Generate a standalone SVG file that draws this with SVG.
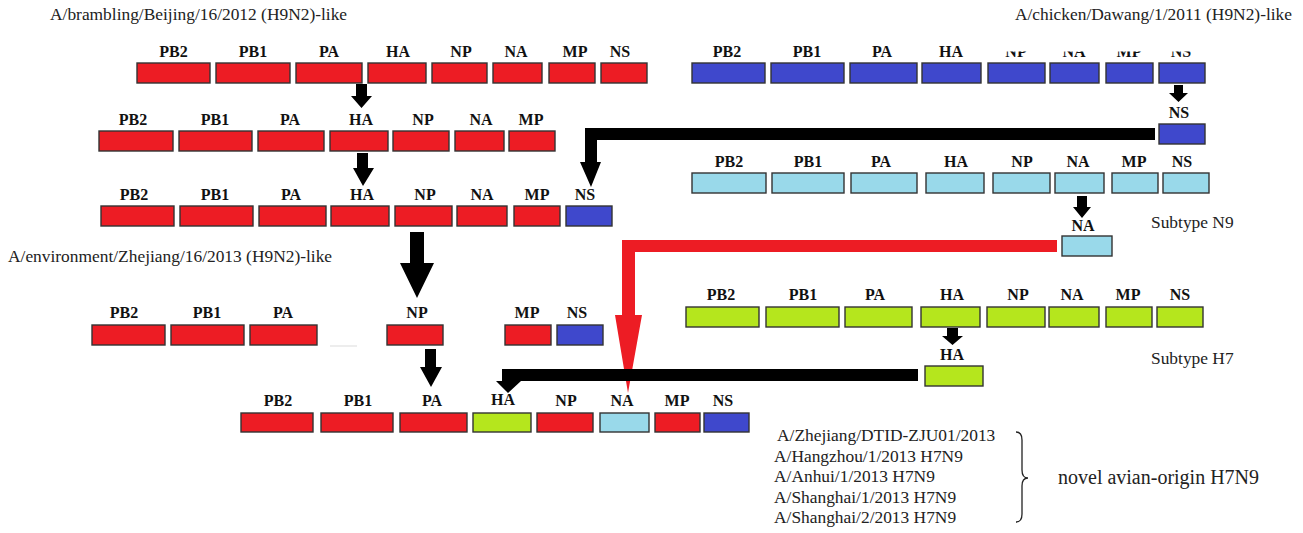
<svg xmlns="http://www.w3.org/2000/svg" width="1303" height="533" viewBox="0 0 1303 533">
<style>
rect.s{stroke:#333;stroke-width:1.4}
.r{fill:#ED1C24}.b{fill:#3F48CC}.c{fill:#99D9EA}.g{fill:#B5E61D}
.l{font-family:"Liberation Serif","Times New Roman",serif;font-weight:bold;font-size:16px;text-anchor:middle;fill:#111}
.t{font-family:"Liberation Serif","Times New Roman",serif;font-size:17.4px;fill:#222}
.a{fill:#000}
.ra{fill:#ED1C24}
</style>
<defs>
<clipPath id="cut"><rect x="975" y="51.5" width="245" height="12"/></clipPath>
</defs>
<rect x="0" y="0" width="1303" height="533" fill="#fff"/>

<g id="titles">
<text class="t" x="50" y="20">A/brambling/Beijing/16/2012 (H9N2)-like</text>
<text class="t" x="1292" y="20" text-anchor="end">A/chicken/Dawang/1/2011 (H9N2)-like</text>
<text class="t" x="8" y="262">A/environment/Zhejiang/16/2013 (H9N2)-like</text>
<text class="t" x="1151" y="228">Subtype N9</text>
<text class="t" x="1151" y="364">Subtype H7</text>
</g>

<g id="connectors">
<polygon class="a" points="356,84 367,84 367,96 372,96 361.5,108 351,96 356,96"/>
<polygon class="a" points="357,153 368,153 368,168 374,168 363,186 353,168 357,168"/>
<polygon class="a" points="410,232 424,232 424,263 434,263 417,298 400,263 410,263"/>
<polygon class="a" points="425,349 436,349 436,367 442,367 431,387 420,367 425,367"/>
<polygon class="a" points="1174,85 1183,85 1183,93 1188,93 1178.5,102 1169,93 1174,93"/>
<polygon class="a" points="1077,196 1087,196 1087,207 1091,207 1082,218 1073,207 1077,207"/>
<polygon class="a" points="947,328 958,328 958,336 963,336 952.5,345 942,336 947,336"/>
<polygon class="a" points="1155,128 1155,140 597,140 597,162 601,162 591,187 580,162 585,162 585,128"/>
<polygon class="ra" points="1057,240 1057,252 635,252 635,315 642,315 628,393 615,315 622,315 622,240"/>
<polygon class="a" points="918,369 918,381 521,381 508,393 496,381 502,381 502,369"/>
</g>

<g id="row1-red">
<g id="r1-PB2"><rect class="s r" x="137" y="63" width="73" height="20"/><text class="l" x="173.5" y="57">PB2</text></g>
<g id="r1-PB1"><rect class="s r" x="216" y="63" width="74" height="20"/><text class="l" x="253" y="57">PB1</text></g>
<g id="r1-PA"><rect class="s r" x="296" y="63" width="66" height="20"/><text class="l" x="329" y="57">PA</text></g>
<g id="r1-HA"><rect class="s r" x="368" y="63" width="58" height="20"/><text class="l" x="398" y="57">HA</text></g>
<g id="r1-NP"><rect class="s r" x="432" y="63" width="55" height="20"/><text class="l" x="461" y="57">NP</text></g>
<g id="r1-NA"><rect class="s r" x="493" y="63" width="49" height="20"/><text class="l" x="516" y="57">NA</text></g>
<g id="r1-MP"><rect class="s r" x="549" y="63" width="46" height="20"/><text class="l" x="575" y="57">MP</text></g>
<g id="r1-NS"><rect class="s r" x="601" y="63" width="46" height="20"/><text class="l" x="620" y="57">NS</text></g>
</g>

<g id="row1-blue">
<g id="b1-PB2"><rect class="s b" x="692" y="63" width="73" height="20"/><text class="l" x="727" y="57">PB2</text></g>
<g id="b1-PB1"><rect class="s b" x="771" y="63" width="73" height="20"/><text class="l" x="807" y="57">PB1</text></g>
<g id="b1-PA"><rect class="s b" x="850" y="63" width="67" height="20"/><text class="l" x="882" y="57">PA</text></g>
<g id="b1-HA"><rect class="s b" x="922" y="63" width="59" height="20"/><text class="l" x="951" y="57">HA</text></g>
<g id="b1-NP"><rect class="s b" x="988" y="63" width="57" height="20"/><text class="l" x="1016" y="57" clip-path="url(#cut)">NP</text></g>
<g id="b1-NA"><rect class="s b" x="1050" y="63" width="49" height="20"/><text class="l" x="1074" y="57" clip-path="url(#cut)">NA</text></g>
<g id="b1-MP"><rect class="s b" x="1106" y="63" width="47" height="20"/><text class="l" x="1129" y="57" clip-path="url(#cut)">MP</text></g>
<g id="b1-NS"><rect class="s b" x="1159" y="63" width="46" height="20"/><text class="l" x="1181" y="57" clip-path="url(#cut)">NS</text></g>
</g>

<g id="small-NS"><rect class="s b" x="1159" y="124" width="46" height="20"/><text class="l" x="1179" y="118">NS</text></g>

<g id="row2-red">
<g id="r2-PB2"><rect class="s r" x="99" y="131" width="74" height="20"/><text class="l" x="133" y="125">PB2</text></g>
<g id="r2-PB1"><rect class="s r" x="179" y="131" width="73" height="20"/><text class="l" x="215" y="125">PB1</text></g>
<g id="r2-PA"><rect class="s r" x="258" y="131" width="66" height="20"/><text class="l" x="290" y="125">PA</text></g>
<g id="r2-HA"><rect class="s r" x="330" y="131" width="58" height="20"/><text class="l" x="361" y="125">HA</text></g>
<g id="r2-NP"><rect class="s r" x="393" y="131" width="56" height="20"/><text class="l" x="423" y="125">NP</text></g>
<g id="r2-NA"><rect class="s r" x="455" y="131" width="49" height="20"/><text class="l" x="481" y="125">NA</text></g>
<g id="r2-MP"><rect class="s r" x="509" y="131" width="46" height="20"/><text class="l" x="531" y="125">MP</text></g>
</g>

<g id="row-N9">
<g id="c-PB2"><rect class="s c" x="692" y="173" width="74" height="20"/><text class="l" x="729" y="167">PB2</text></g>
<g id="c-PB1"><rect class="s c" x="772" y="173" width="72" height="20"/><text class="l" x="808" y="167">PB1</text></g>
<g id="c-PA"><rect class="s c" x="851" y="173" width="66" height="20"/><text class="l" x="881" y="167">PA</text></g>
<g id="c-HA"><rect class="s c" x="926" y="173" width="58" height="20"/><text class="l" x="956" y="167">HA</text></g>
<g id="c-NP"><rect class="s c" x="993" y="173" width="57" height="20"/><text class="l" x="1022" y="167">NP</text></g>
<g id="c-NA"><rect class="s c" x="1055" y="173" width="49" height="20"/><text class="l" x="1078" y="167">NA</text></g>
<g id="c-MP"><rect class="s c" x="1112" y="173" width="46" height="20"/><text class="l" x="1134" y="167">MP</text></g>
<g id="c-NS"><rect class="s c" x="1163" y="173" width="46" height="20"/><text class="l" x="1182" y="167">NS</text></g>
</g>

<g id="small-NA"><rect class="s c" x="1062" y="236" width="50" height="20"/><text class="l" x="1083" y="231">NA</text></g>

<g id="row3">
<g id="r3-PB2"><rect class="s r" x="101" y="206" width="73" height="20"/><text class="l" x="134" y="200">PB2</text></g>
<g id="r3-PB1"><rect class="s r" x="180" y="206" width="73" height="20"/><text class="l" x="215" y="200">PB1</text></g>
<g id="r3-PA"><rect class="s r" x="259" y="206" width="67" height="20"/><text class="l" x="291" y="200">PA</text></g>
<g id="r3-HA"><rect class="s r" x="331" y="206" width="58" height="20"/><text class="l" x="362" y="200">HA</text></g>
<g id="r3-NP"><rect class="s r" x="395" y="206" width="57" height="20"/><text class="l" x="425" y="200">NP</text></g>
<g id="r3-NA"><rect class="s r" x="457" y="206" width="50" height="20"/><text class="l" x="482" y="200">NA</text></g>
<g id="r3-MP"><rect class="s r" x="514" y="206" width="46" height="20"/><text class="l" x="537" y="200">MP</text></g>
<g id="r3-NS"><rect class="s b" x="566" y="206" width="46" height="20"/><text class="l" x="585" y="200">NS</text></g>
</g>

<g id="row4">
<g id="r4-PB2"><rect class="s r" x="92" y="325" width="73" height="20"/><text class="l" x="124" y="318">PB2</text></g>
<g id="r4-PB1"><rect class="s r" x="171" y="325" width="73" height="20"/><text class="l" x="207" y="318">PB1</text></g>
<g id="r4-PA"><rect class="s r" x="250" y="325" width="67" height="20"/><text class="l" x="283" y="318">PA</text></g>
<line x1="330" y1="346" x2="357" y2="346" stroke="#e2e2e2" stroke-width="1.2"/>
<g id="r4-NP"><rect class="s r" x="387" y="325" width="56" height="20"/><text class="l" x="417" y="318">NP</text></g>
<g id="r4-MP"><rect class="s r" x="505" y="325" width="46" height="20"/><text class="l" x="527" y="318">MP</text></g>
<g id="r4-NS"><rect class="s b" x="557" y="325" width="46" height="20"/><text class="l" x="577" y="318">NS</text></g>
</g>

<g id="row-H7">
<g id="g-PB2"><rect class="s g" x="686" y="307" width="73" height="20"/><text class="l" x="721" y="300">PB2</text></g>
<g id="g-PB1"><rect class="s g" x="766" y="307" width="73" height="20"/><text class="l" x="803" y="300">PB1</text></g>
<g id="g-PA"><rect class="s g" x="845" y="307" width="67" height="20"/><text class="l" x="875" y="300">PA</text></g>
<g id="g-HA"><rect class="s g" x="921" y="307" width="59" height="20"/><text class="l" x="952" y="300">HA</text></g>
<g id="g-NP"><rect class="s g" x="987" y="307" width="58" height="20"/><text class="l" x="1018" y="300">NP</text></g>
<g id="g-NA"><rect class="s g" x="1049" y="307" width="50" height="20"/><text class="l" x="1072" y="300">NA</text></g>
<g id="g-MP"><rect class="s g" x="1106" y="307" width="46" height="20"/><text class="l" x="1128" y="300">MP</text></g>
<g id="g-NS"><rect class="s g" x="1157" y="307" width="46" height="20"/><text class="l" x="1180" y="300">NS</text></g>
</g>

<g id="small-HA"><rect class="s g" x="925" y="366" width="58" height="20"/><text class="l" x="952" y="360">HA</text></g>

<g id="row5">
<g id="r5-PB2"><rect class="s r" x="241" y="413" width="72" height="19"/><text class="l" x="278" y="406">PB2</text></g>
<g id="r5-PB1"><rect class="s r" x="321" y="413" width="72" height="19"/><text class="l" x="358" y="406">PB1</text></g>
<g id="r5-PA"><rect class="s r" x="400" y="413" width="67" height="19"/><text class="l" x="432" y="406">PA</text></g>
<g id="r5-HA"><rect class="s g" x="473" y="413" width="58" height="19"/><text class="l" x="503" y="405">HA</text></g>
<g id="r5-NP"><rect class="s r" x="537" y="413" width="56" height="19"/><text class="l" x="566" y="406">NP</text></g>
<g id="r5-NA"><rect class="s c" x="600" y="413" width="49" height="19"/><text class="l" x="622" y="406">NA</text></g>
<g id="r5-MP"><rect class="s r" x="655" y="413" width="45" height="19"/><text class="l" x="677" y="406">MP</text></g>
<g id="r5-NS"><rect class="s b" x="704" y="413" width="45" height="19"/><text class="l" x="723" y="406">NS</text></g>
</g>

<g id="strains">
<text class="t" x="777" y="441">A/Zhejiang/DTID-ZJU01/2013</text>
<text class="t" x="774" y="461.5">A/Hangzhou/1/2013 H7N9</text>
<text class="t" x="774" y="482">A/Anhui/1/2013 H7N9</text>
<text class="t" x="774" y="502.5">A/Shanghai/1/2013 H7N9</text>
<text class="t" x="774" y="523">A/Shanghai/2/2013 H7N9</text>
<path d="M1016,432 Q1022,432 1022,440 L1022,470 Q1022,478 1028,478 Q1022,478 1022,486 L1022,514 Q1022,522 1016,522" fill="none" stroke="#222" stroke-width="1.3"/>
<text class="t" x="1058" y="484" style="font-size:20px">novel avian-origin H7N9</text>
</g>
</svg>
